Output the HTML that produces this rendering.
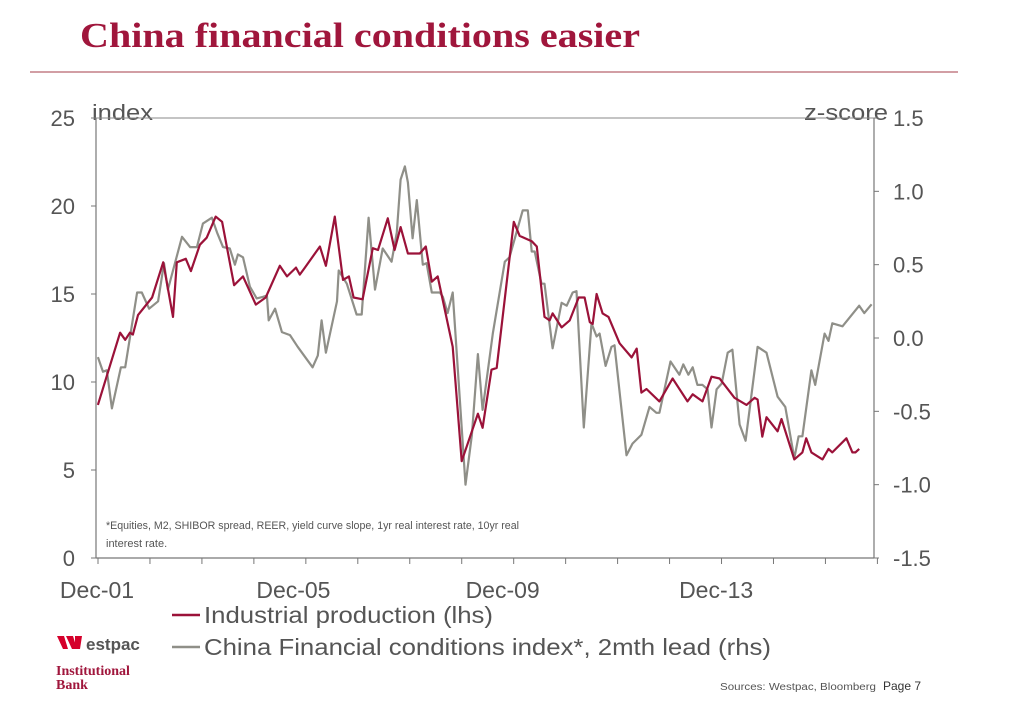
<!DOCTYPE html>
<html><head><meta charset="utf-8">
<style>
body{margin:0;width:1011px;height:708px;background:#fff;overflow:hidden;font-family:"Liberation Sans",sans-serif;}
svg{position:absolute;left:0;top:0}
</style></head>
<body>
<svg width="1011" height="708" id="chart">
<text x="80" y="47" font-family="Liberation Serif" font-weight="bold" font-size="35" fill="#a0163c" textLength="560" lengthAdjust="spacingAndGlyphs">China financial conditions easier</text>
<line x1="30" y1="72" x2="958" y2="72" stroke="#b8636e" stroke-width="1.2"/>
<text x="92" y="120" font-size="22" fill="#555" textLength="61" lengthAdjust="spacingAndGlyphs">index</text>
<text x="888" y="120" font-size="22" fill="#555" text-anchor="end" textLength="84" lengthAdjust="spacingAndGlyphs">z-score</text>
<text x="106" y="529" font-size="11" fill="#555" textLength="413" lengthAdjust="spacingAndGlyphs">*Equities, M2, SHIBOR spread, REER, yield curve slope, 1yr real interest rate, 10yr real</text>
<text x="106" y="547" font-size="11" fill="#555">interest rate.</text>
<g id="axes"></g>
<g id="series"></g>
<line x1="172" y1="615" x2="200" y2="615" stroke="#9b1239" stroke-width="2.5"/>
<text x="204" y="623" font-size="23" fill="#555" textLength="289" lengthAdjust="spacingAndGlyphs">Industrial production (lhs)</text>
<line x1="172" y1="647" x2="200" y2="647" stroke="#8f8f88" stroke-width="2.5"/>
<text x="204" y="655" font-size="23" fill="#555" textLength="567" lengthAdjust="spacingAndGlyphs">China Financial conditions index*, 2mth lead (rhs)</text>
<g>
<polygon points="57,636 64,636 68,649 63,649" fill="#d5002b"/>
<polygon points="66,636 73,636 77,649 72,649" fill="#d5002b"/>
<polygon points="75,636 82,636 80,649 75,649" fill="#d5002b"/>
<text x="86" y="650" font-family="Liberation Sans" font-weight="bold" font-size="17" fill="#555">estpac</text>
<text x="56" y="675" font-family="Liberation Serif" font-weight="bold" font-size="14" fill="#a0163c">Institutional</text>
<text x="56" y="689" font-family="Liberation Serif" font-weight="bold" font-size="14" fill="#a0163c">Bank</text>
</g>
<text x="720" y="690" font-size="10" fill="#555" textLength="156" lengthAdjust="spacingAndGlyphs">Sources: Westpac, Bloomberg</text>
<text x="883" y="690" font-size="12" fill="#333">Page 7</text>
</svg>
<script>
const leftTicks=[0,5,10,15,20,25];
const rightTicks=["-1.5","-1.0","-0.5","0.0","0.5","1.0","1.5"];
const xLabels=["Dec-01","Dec-05","Dec-09","Dec-13"];
const xLabelMonths=[0,46,95,145];
const ipMonths=[0.2,5.4,6.6,7.7,8.4,9.6,12.9,15.5,17.8,18.7,20.8,22,24.1,25.7,27.8,29.3,32.1,34.2,37.2,39.5,42.8,44.5,46.6,47.5,48.7,52.2,53.6,55.7,57.6,59,60.1,62.2,64.6,65.8,68.1,69.7,71.1,72.8,75.6,77,78.4,79.8,83.3,85.4,89.2,90.3,92.4,93.6,97.6,99,101.8,103,104.8,106,106.7,108.8,110.7,112.8,114.2,115.4,116.1,117,118.4,119.8,122.4,125.2,126.4,127.5,128.7,131.7,134.8,138.3,139.5,141.8,143.9,145.8,149.3,152.1,154,154.7,155.8,156.8,159.4,160.3,163.3,165.2,166.1,167.3,169.9,171.3,172.2,175.5,176.9,177.6,178.5];
const ipValues=[8.7,12.8,12.4,12.8,12.7,13.8,14.8,16.8,13.7,16.8,17.0,16.3,17.8,18.2,19.4,19.1,15.5,16.0,14.4,14.8,16.6,16.0,16.5,16.1,16.5,17.7,16.6,19.4,15.8,16.0,14.8,14.7,17.6,17.5,19.3,17.5,18.8,17.3,17.3,17.7,15.7,16.0,12.0,5.5,8.2,7.4,10.7,10.8,19.1,18.3,18.0,17.7,13.7,13.5,13.9,13.1,13.5,14.8,14.8,13.4,13.3,15.0,13.9,13.7,12.2,11.4,11.9,9.4,9.6,8.9,10.2,8.9,9.3,8.9,10.3,10.2,9.1,8.7,9.1,9.0,6.9,8.0,7.2,7.9,5.6,6.0,6.8,6.0,5.6,6.2,6.0,6.8,6.0,6.0,6.2];
const cfMonths=[0.2,1.4,2.3,3.5,5.6,6.6,9.4,10.5,12.2,14.3,15.7,16.6,17.8,19.9,21.8,23.4,24.8,26.9,28.1,29.5,31.1,32.3,33,34.2,35.8,37.4,38.8,39.8,40.2,41.7,43.3,45.2,47,50.5,51.7,52.6,53.6,56.2,56.6,58.5,60.8,62,63.6,65.1,66.9,69,70.2,71.1,72.1,72.8,73.9,74.9,76.3,77.2,78.4,80.3,81,82.1,83.3,86.3,87.8,89.2,90.3,92.7,95.5,96.6,99.7,100.9,101.8,102.5,104.1,104.8,106.7,108.8,110,111.4,112.3,114,115.8,117,117.7,119.1,120.5,121.2,124,125.4,127.5,129.4,131,131.7,134.3,136.4,137.3,138.5,139.5,140.6,141.8,143,143.9,145.1,146.3,147.7,148.8,150.5,151.9,154.7,156.8,159.4,161.2,163.3,164.3,165.2,167.3,168.2,170.4,171.3,172.2,174.6,178.5,179.7,181.4];
const cfValues=[-0.13,-0.23,-0.22,-0.48,-0.20,-0.20,0.31,0.31,0.20,0.25,0.51,0.33,0.46,0.69,0.62,0.62,0.78,0.82,0.72,0.62,0.61,0.50,0.57,0.55,0.35,0.27,0.28,0.29,0.12,0.20,0.04,0.02,-0.06,-0.20,-0.12,0.12,-0.10,0.25,0.46,0.37,0.16,0.16,0.82,0.33,0.61,0.52,0.72,1.08,1.17,1.06,0.68,0.94,0.50,0.51,0.31,0.31,0.28,0.17,0.31,-1.00,-0.66,-0.11,-0.49,0.03,0.52,0.55,0.87,0.87,0.59,0.59,0.37,0.37,-0.07,0.24,0.22,0.31,0.32,-0.61,0.10,0.01,0.03,-0.19,-0.06,-0.05,-0.80,-0.72,-0.66,-0.47,-0.51,-0.51,-0.16,-0.25,-0.18,-0.25,-0.20,-0.32,-0.32,-0.35,-0.61,-0.35,-0.31,-0.10,-0.08,-0.59,-0.70,-0.06,-0.10,-0.40,-0.47,-0.82,-0.67,-0.67,-0.22,-0.32,0.03,-0.02,0.10,0.08,0.22,0.17,0.23];

const NS="http://www.w3.org/2000/svg";
const L=96,R=874,T=118,B=558;
const xS=m=>97+m*4.27;
const yL=v=>B-(v/25)*(B-T);
const yR=z=>B-((z+1.5)/3)*(B-T);
function mk(tag,attrs,parent,txt){const e=document.createElementNS(NS,tag);for(const k in attrs)e.setAttribute(k,attrs[k]);if(txt!==undefined)e.textContent=txt;parent.appendChild(e);return e;}
const ax=document.getElementById('axes');
let e;
e=mk('line',{x1:L,y1:T,x2:R,y2:T,stroke:'#888','stroke-width':1},ax);


e=mk('line',{x1:L,y1:T,x2:L,y2:B,stroke:'#777','stroke-width':1.2},ax);


e=mk('line',{x1:R,y1:T,x2:R,y2:B,stroke:'#777','stroke-width':1.2},ax);


e=mk('line',{x1:L,y1:B,x2:R,y2:B,stroke:'#777','stroke-width':1.2},ax);


leftTicks.forEach(v=>{
  mk('line',{x1:L-5,y1:yL(v),x2:L,y2:yL(v),stroke:'#777'},ax);
  e=mk('text',{x:75,y:yL(v)+8,'font-size':22,fill:'#555','text-anchor':'end'},ax,String(v));
  
  
});
rightTicks.forEach(s=>{
  const z=parseFloat(s);
  mk('line',{x1:R,y1:yR(z),x2:R+5,y2:yR(z),stroke:'#777'},ax);
  e=mk('text',{x:893,y:yR(z)+8,'font-size':22,fill:'#555'},ax,s);
  
  
});
for(let m=0;m<=180;m+=12){mk('line',{x1:98+m*4.33,y1:B,x2:98+m*4.33,y2:B+6,stroke:'#777'},ax);}
xLabels.forEach((s,i)=>{
  e=mk('text',{x:xS(xLabelMonths[i]),y:598,'font-size':23,fill:'#555','text-anchor':'middle'},ax,s);
  
  
});
const sg=document.getElementById('series');
const cfPts=cfMonths.map((m,i)=>xS(m).toFixed(1)+','+yR(cfValues[i]).toFixed(1)).join(' ');
e=mk('polyline',{points:cfPts,fill:'none',stroke:'#8f8f88','stroke-width':2.2,'stroke-linejoin':'round'},sg);


const ipPts=ipMonths.map((m,i)=>xS(m).toFixed(1)+','+yL(ipValues[i]).toFixed(1)).join(' ');
e=mk('polyline',{points:ipPts,fill:'none',stroke:'#9b1239','stroke-width':2.2,'stroke-linejoin':'round'},sg);


</script>
</body></html>
